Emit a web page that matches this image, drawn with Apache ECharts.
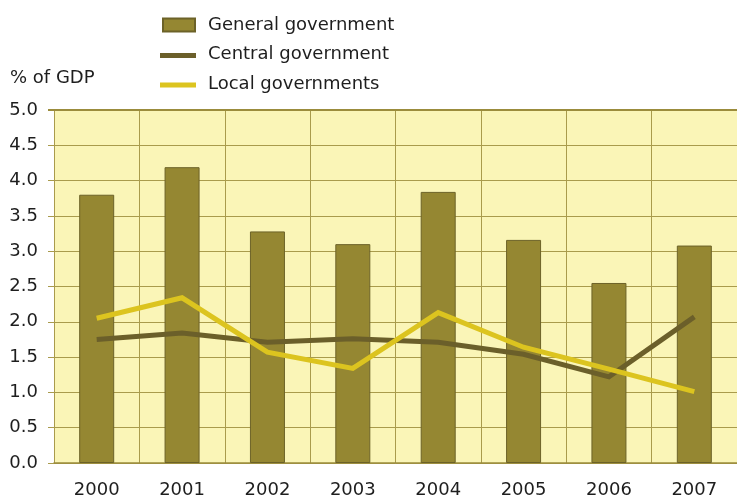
<!DOCTYPE html>
<html>
<head>
<meta charset="utf-8">
<script src="https://cdn.jsdelivr.net/npm/echarts@6/dist/echarts.min.js"></script>
<style>
  html, body { margin: 0; padding: 0; background: #ffffff; }
  #chart { width: 737px; height: 499px; }
</style>
</head>
<body>
<div id="chart"></div>
<script>
// Government deficit components, % of GDP
const years = ['2000', '2001', '2002', '2003', '2004', '2005', '2006', '2007'];
const generalGov = [3.80, 4.19, 3.28, 3.10, 3.84, 3.16, 2.55, 3.08];
const centralGov = [1.75, 1.84, 1.71, 1.76, 1.71, 1.54, 1.22, 2.07];
const localGov = [2.05, 2.34, 1.57, 1.34, 2.13, 1.64, 1.33, 1.01];
const seriesNames = ['General government', 'Central government', 'Local governments'];
const unitLabel = '% of GDP';

const FONT = 'DejaVu Sans';
const TEXT = '#1e1e1e';
const GRID = '#a99b4c';
const BAR = '#958732';
const BAR_EDGE = '#6c6228';
const CENTRAL = '#6b5f2a';
const LOCAL = '#dcc41f';

// legend icons: padded path boxes so the label sits a little further right
const barIcon = 'path://M0,0M43,13M3,0h32v13H3Z';
const lineIcon = 'path://M0,0M43,13M0,5h36v5H0Z';

const chart = echarts.init(document.getElementById('chart'), null, { renderer: 'canvas' });

chart.setOption({
  animation: false,
  backgroundColor: '#ffffff',
  textStyle: { fontFamily: FONT, color: TEXT },
  title: {
    text: unitLabel,
    left: 10,
    top: 69,
    padding: 0,
    textStyle: { fontFamily: FONT, fontSize: 18, fontWeight: 'normal', color: TEXT }
  },
  legend: {
    orient: 'vertical',
    left: 159,
    top: 16,
    padding: 0,
    itemWidth: 43,
    itemHeight: 13,
    itemGap: 11.5,
    selectedMode: false,
    textStyle: { fontFamily: FONT, fontSize: 18, color: TEXT },
    data: [
      { name: seriesNames[0], icon: barIcon },
      { name: seriesNames[1], icon: lineIcon },
      { name: seriesNames[2], icon: lineIcon }
    ]
  },
  grid: {
    left: 54,
    top: 110,
    bottom: 33,
    right: -4,
    show: true,
    backgroundColor: '#faf5b7',
    borderColor: GRID,
    borderWidth: 0
  },
  xAxis: {
    type: 'category',
    data: years,
    boundaryGap: true,
    axisLine: { show: true, lineStyle: { color: '#9b8c3c', width: 1.5 } },
    axisTick: { show: false },
    splitLine: { show: true, interval: 0, lineStyle: { color: GRID, width: 1 } },
    axisLabel: { fontFamily: FONT, fontSize: 18, color: TEXT, margin: 18, interval: 0 }
  },
  yAxis: {
    type: 'value',
    min: 0,
    max: 5,
    interval: 0.5,
    axisLine: { show: true, lineStyle: { color: GRID, width: 1 } },
    axisTick: { show: true, length: 6, lineStyle: { color: GRID } },
    splitLine: { show: true, lineStyle: { color: GRID, width: 1 } },
    axisLabel: {
      fontFamily: FONT, fontSize: 18, color: TEXT, margin: 16,
      formatter: v => v.toFixed(1)
    }
  },
  series: [
    {
      name: seriesNames[0],
      type: 'bar',
      data: generalGov,
      barWidth: 35,
      itemStyle: { color: BAR, borderColor: BAR_EDGE, borderWidth: 1 },
      z: 2
    },
    {
      name: seriesNames[1],
      type: 'line',
      data: centralGov,
      symbol: 'none',
      itemStyle: { color: CENTRAL },
      lineStyle: { color: CENTRAL, width: 5, join: 'miter' },
      z: 3
    },
    {
      name: seriesNames[2],
      type: 'line',
      data: localGov,
      symbol: 'none',
      itemStyle: { color: LOCAL },
      lineStyle: { color: LOCAL, width: 5, join: 'miter' },
      z: 4
    }
  ],
  graphic: []
});

// stronger top edge of the plotting area
const topEdge = chart.convertToPixel({ yAxisIndex: 0 }, 5);
chart.setOption({
  graphic: [{
    type: 'line',
    shape: { x1: 48, y1: topEdge, x2: 737, y2: topEdge },
    style: { stroke: '#9b8c3c', lineWidth: 2 },
    z: 10
  }]
});
</script>
</body>
</html>
